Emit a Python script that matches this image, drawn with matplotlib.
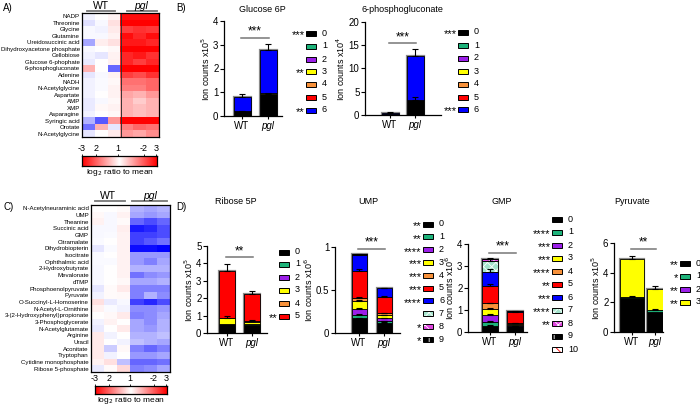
import numpy as np
import matplotlib.pyplot as plt
from matplotlib.colors import LinearSegmentedColormap
from matplotlib.patches import Rectangle

plt.rcParams['font.family'] = ['Liberation Sans', 'DejaVu Sans']
plt.rcParams['hatch.linewidth'] = 0.6

W, H = 700, 405

# ---- heatmap A (log2 ratio to mean, scaled to -1..1) ----
heat_a_rows = ['NADP', 'Threonine', 'Glycine', 'Glutamine', 'Ureidosuccinic acid',
               'Dihydroxyacetone phosphate', 'Cellobiose', 'Glucose 6-phophate',
               '6-phosphogluconate', 'Adenine', 'NADH', 'N-Acetylglycine', 'Aspartate',
               'AMP', 'XMP', 'Asparagine', 'Syringic acid', 'Orotate', 'N-Acetylglycine']
heat_a_vals = [
    [-0.05, 0.0, 0.05, 0.95, 0.95, 0.95],
    [-0.12, -0.03, 0.12, 1.0, 1.0, 1.0],
    [-0.03, -0.05, 0.08, 0.75, 0.8, 0.78],
    [-0.03, -0.03, 0.05, 0.95, 0.85, 0.95],
    [-0.35, 0.07, 0.12, 0.9, 0.9, 0.85],
    [-0.03, 0.0, 0.03, 1.0, 1.0, 1.0],
    [-0.05, -0.1, 0.05, 0.85, 0.9, 0.8],
    [-0.08, 0.0, 0.06, 0.85, 0.75, 0.85],
    [0.3, 0.0, -0.6, 1.0, 1.0, 1.0],
    [-0.1, -0.03, 0.05, 0.75, 0.7, 0.8],
    [-0.05, -0.02, 0.03, 0.55, 0.55, 0.6],
    [-0.05, -0.02, 0.05, 0.5, 0.5, 0.6],
    [-0.05, 0.0, 0.05, 0.35, 0.3, 0.4],
    [-0.08, -0.03, 0.03, 0.3, 0.2, 0.3],
    [-0.08, 0.03, 0.05, 0.3, 0.25, 0.3],
    [-0.05, 0.0, 0.03, 0.3, 0.25, 0.3],
    [-0.3, -0.65, 0.4, 1.0, 1.0, 1.0],
    [-0.55, 0.3, -0.1, 0.5, 0.6, 0.55],
    [-0.1, 0.0, 0.08, 0.4, 0.35, 0.45],
]

# ---- heatmap C ----
heat_c_rows = ['N-Acetylneuraminic acid', 'UMP', 'Theanine', 'Succinic acid', 'GMP',
               'Citramalate', 'Dihydrobiopterin', 'Isocitrate', 'Ophthalmic acid',
               '2-Hydroxybutyrate', 'Mevalonate', 'dTMP', 'Phosphoenolpyruvate', 'Pyruvate',
               'O-Succinyl-L-Homoserine', 'N-Acetyl-L-Ornithine',
               '3-(2-Hydroxyphenyl)propionate', '3-Phosphoglycerate', 'N-Acetylglutamate',
               'Arginine', 'Uracil', 'Aconitate', 'Tryptophan', 'Cytidine monophosphate',
               'Ribose 5-phosphate']
heat_c_vals = [
    [0.0, 0.0, 0.02, -0.3, -0.35, -0.3],
    [0.03, -0.03, 0.05, -0.35, -0.4, -0.35],
    [0.05, -0.03, 0.02, -0.6, -0.7, -0.6],
    [-0.03, -0.03, 0.07, -0.9, -0.85, -0.7],
    [-0.03, -0.02, 0.05, -0.75, -0.75, -0.7],
    [-0.02, 0.0, 0.05, -0.75, -0.65, -0.55],
    [-0.1, -0.02, 0.05, -0.95, -0.95, -1.0],
    [-0.02, 0.0, 0.05, -0.4, -0.4, -0.4],
    [-0.02, -0.02, 0.05, -0.4, -0.5, -0.35],
    [-0.03, 0.0, 0.05, -0.3, -0.3, -0.3],
    [-0.03, 0.0, 0.05, -0.55, -0.45, -0.4],
    [-0.03, 0.0, 0.03, -0.35, -0.35, -0.3],
    [-0.1, 0.02, 0.08, -0.5, -0.5, -0.5],
    [-0.05, 0.02, 0.03, -0.5, -0.3, -0.45],
    [0.12, -0.08, -0.03, -0.75, -0.85, -0.7],
    [0.05, -0.02, -0.05, -0.45, -0.45, -0.4],
    [0.0, 0.03, 0.08, -0.5, -0.45, -0.35],
    [-0.05, 0.05, 0.0, -0.35, -0.45, -0.3],
    [-0.08, 0.0, 0.08, -0.35, -0.4, -0.3],
    [0.08, -0.05, 0.0, -0.3, -0.3, -0.25],
    [0.08, 0.0, -0.05, -0.25, -0.3, -0.35],
    [0.08, -0.2, 0.03, -0.5, -0.6, -0.5],
    [0.08, -0.05, 0.0, -0.4, -0.4, -0.35],
    [0.05, 0.12, -0.25, -0.6, -0.6, -0.55],
    [-0.08, 0.02, 0.15, -0.5, -0.45, -0.35],
]
cbar_labels = ['-3', '2', '1', '-2', '3']

# ---- isotopologue bars: segment heights (WT, pgl) and SEM ----
groups = ['WT', 'pgl']
g6p_wt = [0.2, 0, 0, 0.01, 0, 0, 0.61]
g6p_pgl = [0.92, 0, 0, 0.03, 0, 0, 1.83]
g6p_wt_err = [0.03, 0, 0, 0, 0, 0, 0.11]
g6p_pgl_err = [0.06, 0, 0, 0, 0, 0, 0.24]

pg6_wt = [0.15, 0, 0, 0, 0, 0, 0.25]
pg6_pgl = [3.3, 0, 0, 0, 0, 0, 9.3]
pg6_wt_err = [0, 0, 0, 0, 0, 0, 0.3]
pg6_pgl_err = [0.6, 0, 0, 0, 0, 0, 1.6]

r5p_wt = [0.5, 0.02, 0.02, 0.3, 0.03, 2.71]
r5p_pgl = [0.48, 0.02, 0.02, 0.12, 0.05, 1.53]
r5p_wt_err = [0, 0, 0, 0, 0.12, 0.4]
r5p_pgl_err = [0, 0, 0, 0, 0.08, 0.19]

ump_wt = [0.17, 0.04, 0.07, 0.09, 0.04, 0.31, 0.19, 0.003, 0.002, 0.001]
ump_pgl = [0.12, 0.02, 0.03, 0.04, 0.02, 0.19, 0.10, 0, 0, 0]
ump_wt_err = [0.01, 0.01, 0.01, 0.01, 0.01, 0.03, 0.01, 0, 0, 0]
ump_pgl_err = [0.005, 0.005, 0.005, 0.005, 0.005, 0.01, 0.005, 0, 0, 0]

gmp_wt = [0.28, 0.19, 0.31, 0.27, 0.25, 0.77, 0.68, 0.47, 0.1, 0.01, 0]
gmp_pgl = [0.27, 0.02, 0.03, 0.03, 0.05, 0.53, 0.01, 0.005, 0, 0, 0]
gmp_wt_err = [0.02, 0.03, 0.04, 0.04, 0.03, 0.1, 0.1, 0.08, 0.03, 0, 0]
gmp_pgl_err = [0.02, 0, 0, 0, 0.03, 0.03, 0, 0, 0, 0, 0]

pyr_wt = [2.26, 0.1, 0.02, 2.57]
pyr_pgl = [1.36, 0.1, 0.02, 1.39]
pyr_wt_err = [0, 0.08, 0, 0.18]
pyr_pgl_err = [0, 0.1, 0, 0.25]

iso_colors = ['#000000', '#1db37a', '#9b1fe8', '#ffff00', '#f7913a', '#ff0000',
              '#0000ff', '#a4e4cc', '#dd44dd', '#000000', '#ffffff']
iso_hatch = [None] * 7 + ['xxxx', 'xx', '||', '\\\\\\\\']
hatch_col = [None] * 7 + ['white', 'white', 'white', 'red']


def box(x0, y0, x1, y1):
    return [x0 / W, 1 - y1 / H, (x1 - x0) / W, (y1 - y0) / H]


fig = plt.figure(figsize=(7, 4.05), dpi=100)
ov = fig.add_axes([0, 0, 1, 1])
ov.set_xlim(0, W)
ov.set_ylim(H, 0)
ov.axis('off')
ov.set_facecolor('none')

heat_cmap = LinearSegmentedColormap.from_list('bwr2', ['#0000ff', '#ffffff', '#ff0000'])
bar_cmap = LinearSegmentedColormap.from_list('wr', ['#ffffff', '#ff0000'])


def heatmap(rect, labels, vals, divider):
    ax = fig.add_axes(box(*rect))
    ax.imshow(np.array(vals), cmap=heat_cmap, vmin=-1, vmax=1, aspect='auto',
              interpolation='nearest')
    ax.set_yticks(range(len(labels)))
    ax.set_yticklabels(labels, fontsize=4.4)
    ax.set_xticks([])
    ax.tick_params(axis='y', length=0, pad=1.5)
    for s in ax.spines.values():
        s.set_linewidth(0.9)
    if divider:
        ax.axvline(2.5, color='#333333', lw=0.7)


def colorbar(rect, label_y):
    ax = fig.add_axes(box(*rect))
    g = np.abs(np.linspace(-1, 1, 256))[None, :]
    ax.imshow(g, cmap=bar_cmap, vmin=0, vmax=1, aspect='auto', extent=[0, 1, 0, 1])
    ax.xaxis.tick_top()
    ax.set_xticks([0.0, 0.19, 0.48, 0.82, 0.99])
    ax.set_xticklabels(cbar_labels, fontsize=6.5)
    ax.tick_params(axis='x', length=1.5, pad=0.5, width=0.6)
    ax.set_yticks([])
    for s in ax.spines.values():
        s.set_linewidth(0.9)
    ov.text((rect[0] + rect[2]) / 2, label_y, r'log$_2$ ratio to mean', fontsize=6,
            ha='center', va='center')


def header(x_wt, x_pgl, y, wt_line, pgl_line):
    ov.text(x_wt, y, 'WT', fontsize=7.5, ha='center', va='center')
    ov.text(x_pgl, y, 'pgl', fontsize=7.5, ha='center', va='center', style='italic')
    ov.plot(wt_line, [y + 5, y + 5], color='#777777', lw=1.3)
    ov.plot(pgl_line, [y + 5, y + 5], color='#777777', lw=1.3)


def stacked(rect, c_wt, c_pgl, widths, ymax, yticks, ylabel, wt, pgl, wt_err, pgl_err,
            sig_y, sig_txt, ytick_fmt=None):
    left, top, right, bottom = rect
    ax = fig.add_axes(box(left, top, right, bottom))
    s = c_pgl - c_wt
    ax.set_xlim((left - c_wt) / s, (right - c_wt) / s)
    ax.set_ylim(0, ymax)
    for i, (vals, errs) in enumerate([(wt, wt_err), (pgl, pgl_err)]):
        w = widths[i] / s
        ax.bar(i, sum(vals), width=w, fill=False, edgecolor='#8a8a8a', lw=1.6, zorder=1)
        base = 0
        tops = []
        for k, v in enumerate(vals):
            if v > 0:
                if iso_hatch[k]:
                    ax.bar(i, v, width=w, bottom=base, facecolor=iso_colors[k],
                           edgecolor=hatch_col[k], hatch=iso_hatch[k], lw=0, zorder=2)
                    ax.bar(i, v, width=w, bottom=base, fill=False, edgecolor='black',
                           lw=0.6, zorder=2)
                else:
                    ax.bar(i, v, width=w, bottom=base, color=iso_colors[k],
                           edgecolor='black', lw=0.6, zorder=2)
            base += v
            tops.append(base)
        for k, e in enumerate(errs):
            if e > 0:
                ax.errorbar(i, tops[k], yerr=[[0], [e]], fmt='none', ecolor='black',
                            elinewidth=0.8, capsize=2.2, capthick=0.8, zorder=3)
    ax.set_xticks([0, 1])
    ax.set_xticklabels(groups, fontsize=7)
    ax.get_xticklabels()[1].set_style('italic')
    ax.set_yticks(yticks)
    if ytick_fmt:
        ax.set_yticklabels([ytick_fmt % t for t in yticks])
    ax.tick_params(axis='y', labelsize=7, length=3, width=0.8, pad=1)
    ax.tick_params(axis='x', length=2, width=0.8, pad=1.5)
    ax.spines['top'].set_visible(False)
    ax.spines['right'].set_visible(False)
    ax.spines['left'].set_linewidth(0.9)
    ax.spines['bottom'].set_linewidth(0.9)
    ax.set_ylabel(ylabel, fontsize=6.5, labelpad=1)
    ax.plot([-0.05, 1.05], [sig_y, sig_y], color='#777777', lw=1.1, clip_on=False)
    ax.text(0.5, sig_y, sig_txt, fontsize=8.5, ha='center', va='bottom')


def legend(bx, rows, n, stars):
    for k in range(n):
        y = rows[k]
        if iso_hatch[k]:
            ov.add_patch(Rectangle((bx, y - 2.5), 10, 5, facecolor=iso_colors[k],
                                   edgecolor=hatch_col[k], hatch=iso_hatch[k], lw=0))
            ov.add_patch(Rectangle((bx, y - 2.5), 10, 5, fill=False, edgecolor='black',
                                   lw=0.7))
        else:
            ov.add_patch(Rectangle((bx, y - 2.5), 10, 5, facecolor=iso_colors[k],
                                   edgecolor='black', lw=0.7))
        ov.text(bx + 16, y, str(k), fontsize=6.5, va='center', ha='left')
        if k in stars:
            ov.text(bx - 1.5, y + 2, stars[k], fontsize=8, va='center', ha='right')


# panel labels
for txt, x, y in [('A)', 3, 8), ('B)', 176, 8), ('C)', 3, 207), ('D)', 176, 207)]:
    ov.text(x, y, txt, fontsize=7, va='center', ha='left')

# A
heatmap((82, 13, 159, 137), heat_a_rows, heat_a_vals, True)
header(101, 141, 6, [87, 115], [127, 157])
colorbar((82, 156, 157, 166), 173)

# C
heatmap((91, 205, 170, 372), heat_c_rows, heat_c_vals, False)
header(108, 150, 196, [95, 125], [132, 167])
colorbar((95, 386, 167, 394), 400)

# B
ov.text(262, 10, 'Glucose 6P', fontsize=6.5, ha='center', va='center')
stacked((224, 21, 282, 116), 242, 268, (17, 17), 4, [0, 1, 2, 3, 4],
        r'Ion counts x10$^5$', g6p_wt, g6p_pgl, g6p_wt_err, g6p_pgl_err, 3.3, '***')
legend(306, [33, 46, 59, 71, 84, 97, 110], 7, {0: '***', 3: '**', 6: '**'})

ov.text(402, 10, '6-phosphogluconate', fontsize=6.5, ha='center', va='center')
stacked((365, 22, 441, 115), 390, 415, (17, 17), 20, [0, 5, 10, 15, 20],
        r'Ion counts x10$^4$', pg6_wt, pg6_pgl, pg6_wt_err, pg6_pgl_err, 15.4, '***')
legend(458, [32, 45, 58, 71, 84, 97, 109], 7, {0: '***', 6: '***'})

# D
ov.text(236, 202, 'Ribose 5P', fontsize=6.5, ha='center', va='center')
stacked((207, 246, 267, 333), 227, 252, (16, 16), 5, [0, 1, 2, 3, 4, 5],
        r'Ion counts x10$^5$', r5p_wt, r5p_pgl, r5p_wt_err, r5p_pgl_err, 4.35, '**')
legend(279, [252, 264, 277, 290, 303, 316], 6, {5: '**'})

ov.text(368, 202, 'UMP', fontsize=6.5, ha='center', va='center')
stacked((335, 247, 400, 333), 359, 384, (15, 15), 1.0, [0, 0.5, 1.0],
        r'Ion counts x10$^6$', ump_wt, ump_pgl, ump_wt_err, ump_pgl_err, 0.98, '***',
        ytick_fmt='%g')
legend(423, [224 + 12.8 * k for k in range(10)], 10,
       {0: '**', 1: '**', 2: '****', 3: '***', 4: '***', 5: '***', 6: '****', 8: '*', 9: '*'})

ov.text(502, 202, 'GMP', fontsize=6.5, ha='center', va='center')
stacked((468, 244, 527, 332), 490, 515, (16, 16), 4, [0, 1, 2, 3, 4],
        r'Ion counts x10$^6$', gmp_wt, gmp_pgl, gmp_wt_err, gmp_pgl_err, 3.6, '***')
legend(552, [219 + 13 * k for k in range(11)], 11,
       {1: '****', 2: '***', 3: '***', 4: '****', 5: '**', 6: '***', 7: '****', 8: '**'})

ov.text(632, 202, 'Pyruvate', fontsize=6.5, ha='center', va='center')
stacked((614, 243, 663, 332), 632, 654.5, (24, 16), 6, [0, 2, 4, 6],
        r'Ion counts x10$^5$', pyr_wt, pyr_pgl, pyr_wt_err, pyr_pgl_err, 5.6, '**')
legend(680, [263, 276, 289, 302], 4, {0: '**', 1: '*', 2: '**', 3: '**'})

fig.savefig('out.png', dpi=100)
